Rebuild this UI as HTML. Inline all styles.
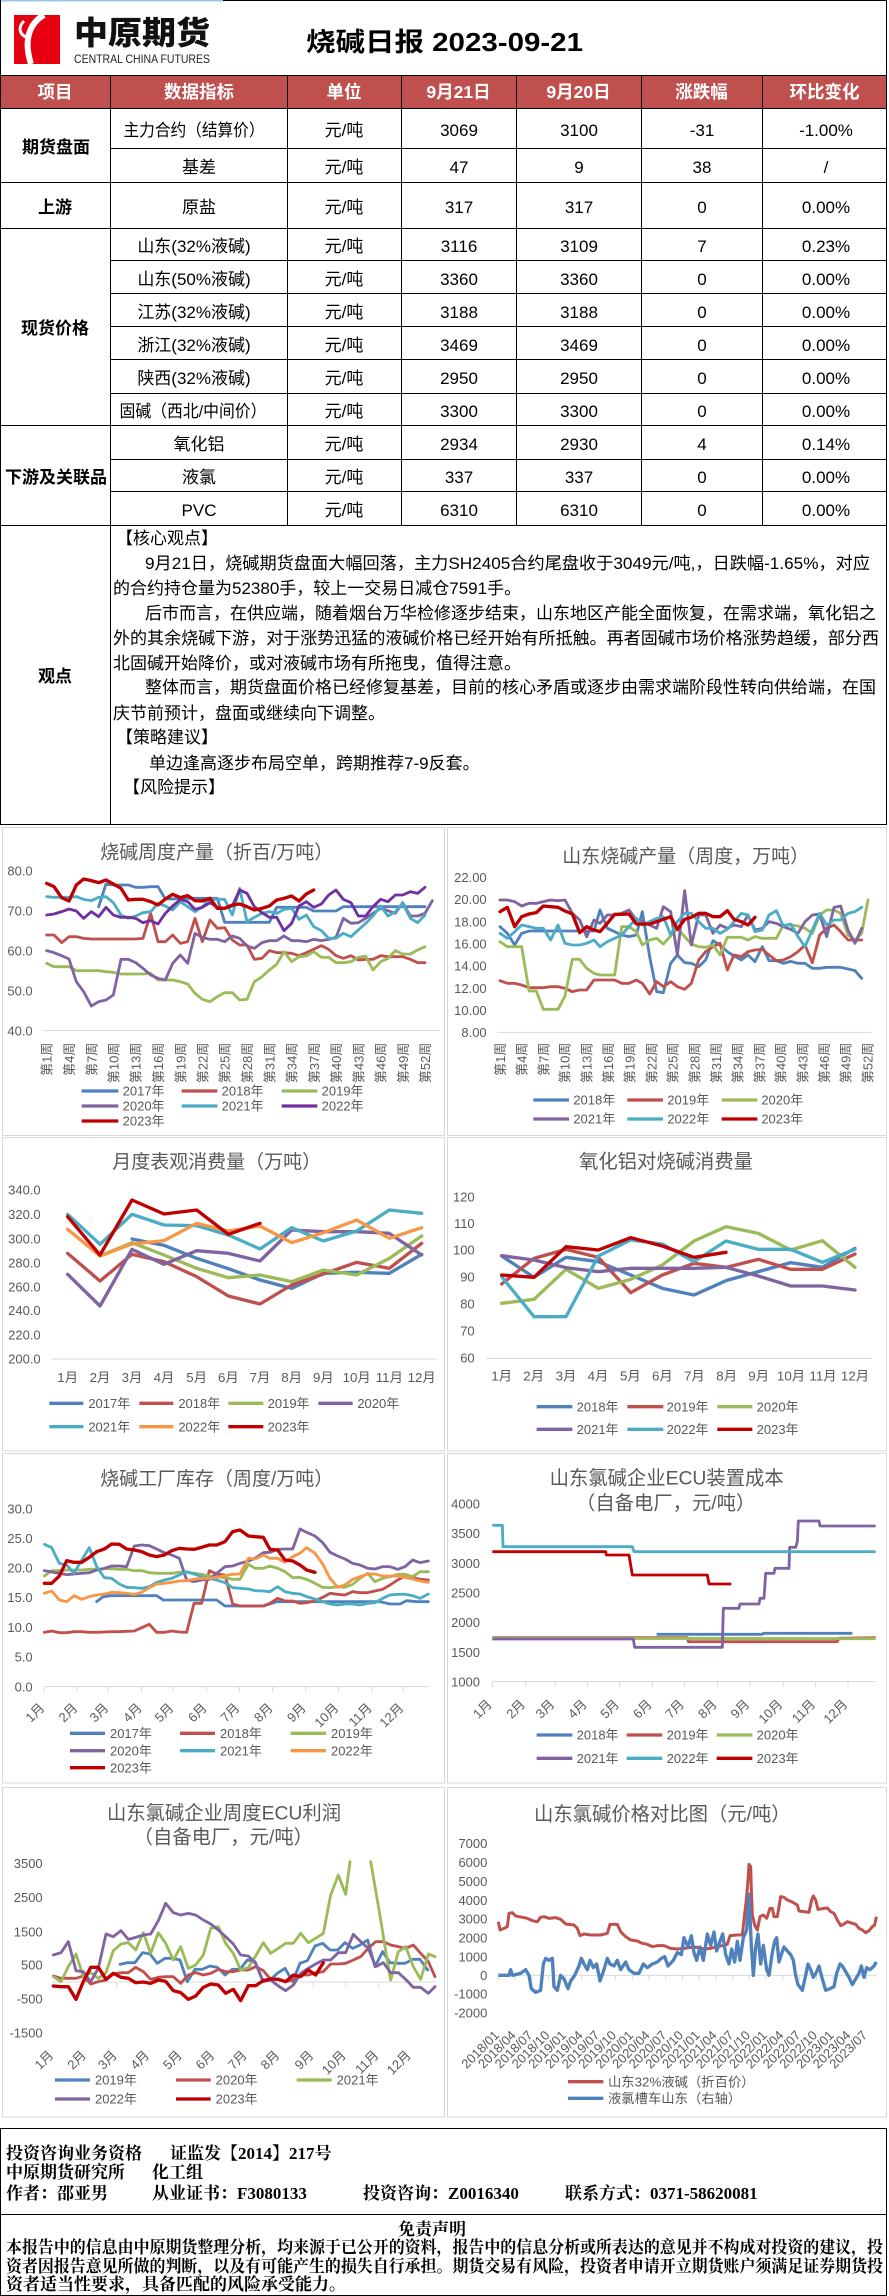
<!DOCTYPE html>
<html><head><meta charset="utf-8"><style>
html,body{margin:0;padding:0;background:#fff;}
body{width:889px;height:2296px;overflow:hidden;position:relative;}
svg{position:absolute;left:0;top:0;}
</style></head><body>
<svg width="889" height="2296" viewBox="0 0 889 2296" font-family="'Liberation Sans','Noto Sans CJK SC',sans-serif">
<!-- header -->
<rect x="0" y="0" width="223" height="1.5" fill="#9dc3e6"/>
<path d="M223 0.5H886.5" stroke="#000" stroke-width="1"/>
<rect x="14" y="15" width="46" height="49" fill="#e60012"/>
<path d="M44 15 C30 23 23 39 31 64" stroke="#fff" stroke-width="6" fill="none"/>
<path d="M24 21 C18 27 19 34 26 37" stroke="#fff" stroke-width="3" fill="none"/>
<text x="74" y="44" font-size="32" font-weight="900" textLength="136" lengthAdjust="spacingAndGlyphs" fill="#111">中原期货</text>
<text x="74" y="63" font-size="12" textLength="136" lengthAdjust="spacingAndGlyphs" fill="#222">CENTRAL CHINA FUTURES</text>
<text x="306" y="51" font-size="26" font-weight="bold" textLength="277" lengthAdjust="spacingAndGlyphs" fill="#000">烧碱日报 2023-09-21</text>

<!-- table header fill -->
<rect x="0" y="75.5" width="887" height="33" fill="#C0504D"/>
<!-- grid -->
<g stroke="#000" stroke-width="1" fill="none">
<path d="M0 75.5H887M0 108.5H887M110 148.5H887M0 182.5H887M0 228.5H887M110 260.5H887M110 293.5H887M110 326.5H887M110 359.5H887M110 393.5H887M0 425.5H887M110 459.5H887M110 491.5H887M0 525.5H887M0 824.5H887"/>
<path d="M0.5 0V824M110.5 75V824M287.5 75V525M401.5 75V525M516.5 75V525M641.5 75V525M762.5 75V525M886.5 0V824"/>
</g>
<g font-size="17.5" font-weight="bold" fill="#fff" text-anchor="middle">
<text x="55" y="98">项目</text><text x="199" y="98">数据指标</text><text x="344" y="98">单位</text>
<text x="458.5" y="98">9月21日</text><text x="578.5" y="98">9月20日</text><text x="701.5" y="98">涨跌幅</text><text x="824.5" y="98">环比变化</text>
</g>
<g font-size="17" font-weight="bold" fill="#000" text-anchor="middle">
<text x="56" y="153">期货盘面</text><text x="55" y="213">上游</text><text x="55" y="334">现货价格</text><text x="56" y="483">下游及关联品</text><text x="55" y="682">观点</text>
</g>
<g font-size="17" fill="#000" text-anchor="middle">
<text x="194" y="136" textLength="141" lengthAdjust="spacingAndGlyphs">主力合约（结算价）</text>
<text x="344" y="136">元/吨</text><text x="459" y="136">3069</text><text x="579" y="136">3100</text><text x="702" y="136">-31</text><text x="826" y="136">-1.00%</text>
<text x="199" y="173">基差</text><text x="344" y="173">元/吨</text><text x="459" y="173">47</text><text x="579" y="173">9</text><text x="702" y="173">38</text><text x="826" y="173">/</text>
<text x="199" y="213">原盐</text><text x="344" y="213">元/吨</text><text x="459" y="213">317</text><text x="579" y="213">317</text><text x="702" y="213">0</text><text x="826" y="213">0.00%</text>
<text x="194" y="252">山东(32%液碱)</text><text x="344" y="252">元/吨</text><text x="459" y="252">3116</text><text x="579" y="252">3109</text><text x="702" y="252">7</text><text x="826" y="252">0.23%</text>
<text x="194" y="285">山东(50%液碱)</text><text x="344" y="285">元/吨</text><text x="459" y="285">3360</text><text x="579" y="285">3360</text><text x="702" y="285">0</text><text x="826" y="285">0.00%</text>
<text x="194" y="318">江苏(32%液碱)</text><text x="344" y="318">元/吨</text><text x="459" y="318">3188</text><text x="579" y="318">3188</text><text x="702" y="318">0</text><text x="826" y="318">0.00%</text>
<text x="194" y="351">浙江(32%液碱)</text><text x="344" y="351">元/吨</text><text x="459" y="351">3469</text><text x="579" y="351">3469</text><text x="702" y="351">0</text><text x="826" y="351">0.00%</text>
<text x="194" y="384">陕西(32%液碱)</text><text x="344" y="384">元/吨</text><text x="459" y="384">2950</text><text x="579" y="384">2950</text><text x="702" y="384">0</text><text x="826" y="384">0.00%</text>
<text x="193" y="417" textLength="147" lengthAdjust="spacingAndGlyphs">固碱（西北/中间价）</text><text x="344" y="417">元/吨</text><text x="459" y="417">3300</text><text x="579" y="417">3300</text><text x="702" y="417">0</text><text x="826" y="417">0.00%</text>
<text x="199" y="450">氧化铝</text><text x="344" y="450">元/吨</text><text x="459" y="450">2934</text><text x="579" y="450">2930</text><text x="702" y="450">4</text><text x="826" y="450">0.14%</text>
<text x="199" y="483">液氯</text><text x="344" y="483">元/吨</text><text x="459" y="483">337</text><text x="579" y="483">337</text><text x="702" y="483">0</text><text x="826" y="483">0.00%</text>
<text x="199" y="516">PVC</text><text x="344" y="516">元/吨</text><text x="459" y="516">6310</text><text x="579" y="516">6310</text><text x="702" y="516">0</text><text x="826" y="516">0.00%</text>
</g>
<!-- viewpoint -->
<g font-size="17" fill="#000">
<text x="116" y="544">【核心观点】</text>
<text x="145" y="569" textLength="725" lengthAdjust="spacingAndGlyphs">9月21日，烧碱期货盘面大幅回落，主力SH2405合约尾盘收于3049元/吨,，日跌幅-1.65%，对应</text>
<text x="113" y="594">的合约持仓量为52380手，较上一交易日减仓7591手。</text>
<text x="145" y="619" textLength="731" lengthAdjust="spacingAndGlyphs">后市而言，在供应端，随着烟台万华检修逐步结束，山东地区产能全面恢复，在需求端，氧化铝之</text>
<text x="113" y="644" textLength="766" lengthAdjust="spacingAndGlyphs">外的其余烧碱下游，对于涨势迅猛的液碱价格已经开始有所抵触。再者固碱市场价格涨势趋缓，部分西</text>
<text x="113" y="669">北固碱开始降价，或对液碱市场有所拖曳，值得注意。</text>
<text x="145" y="693" textLength="731" lengthAdjust="spacingAndGlyphs">整体而言，期货盘面价格已经修复基差，目前的核心矛盾或逐步由需求端阶段性转向供给端，在国</text>
<text x="113" y="719">庆节前预计，盘面或继续向下调整。</text>
<text x="116" y="743">【策略建议】</text>
<text x="149" y="769">单边逢高逐步布局空单，跨期推荐7-9反套。</text>
<text x="123" y="793">【风险提示】</text>
</g>

<!-- chart boxes -->
<g fill="none" stroke="#d9d9d9" stroke-width="1">
<rect x="2.5" y="827.5" width="442" height="308"/><rect x="447.5" y="827.5" width="439" height="308"/>
<rect x="2.5" y="1137.5" width="442" height="313.5"/><rect x="447.5" y="1137.5" width="439" height="313.5"/>
<rect x="2.5" y="1453.5" width="442" height="329.5"/><rect x="447.5" y="1453.5" width="439" height="329.5"/>
<rect x="2.5" y="1787.5" width="442" height="329.5"/><rect x="447.5" y="1787.5" width="439" height="329.5"/>
</g>

<!-- C1 -->
<g transform="translate(0,800) scale(0.333333)">
<text x="650" y="175" font-size="57" text-anchor="middle" fill="#595959">烧碱周度产量（折百/万吨）</text>
<g font-size="39" fill="#595959" text-anchor="end">
<text x="98" y="226">80.0</text><text x="98" y="346">70.0</text><text x="98" y="466">60.0</text><text x="98" y="586">50.0</text><text x="98" y="706">40.0</text>
<text transform="translate(155,728) rotate(-90)">第1周</text><text transform="translate(222,728) rotate(-90)">第4周</text><text transform="translate(289,728) rotate(-90)">第7周</text><text transform="translate(355,728) rotate(-90)">第10周</text><text transform="translate(422,728) rotate(-90)">第13周</text><text transform="translate(489,728) rotate(-90)">第16周</text><text transform="translate(556,728) rotate(-90)">第19周</text><text transform="translate(623,728) rotate(-90)">第22周</text><text transform="translate(689,728) rotate(-90)">第25周</text><text transform="translate(756,728) rotate(-90)">第28周</text><text transform="translate(823,728) rotate(-90)">第31周</text><text transform="translate(890,728) rotate(-90)">第34周</text><text transform="translate(957,728) rotate(-90)">第37周</text><text transform="translate(1023,728) rotate(-90)">第40周</text><text transform="translate(1090,728) rotate(-90)">第43周</text><text transform="translate(1157,728) rotate(-90)">第46周</text><text transform="translate(1224,728) rotate(-90)">第49周</text><text transform="translate(1290,728) rotate(-90)">第52周</text>
</g>
<line x1="130" y1="692" x2="1320" y2="692" stroke="#d9d9d9" stroke-width="3"/>
<g fill="none" stroke-width="8.5" stroke-linejoin="round" stroke-linecap="round">
<polyline stroke="#4F81BD" points="296,320 318,252 340,255 363,255 385,255 407,262 429,262 452,260 474,260 496,297 518,297 541,295 563,295 585,295 607,295 630,295 652,295 674,367 697,367 719,367 741,367 763,367 786,367 808,367 830,322 852,322 875,322 897,322 919,322 941,333 964,333 986,333 1008,333 1030,320 1053,320 1075,320 1097,320 1119,320 1142,320 1164,320 1186,320 1208,320 1231,320 1253,320 1275,320"/>
<polyline stroke="#C0504D" points="140,405 162,405 185,428 207,410 229,410 251,415 274,417 296,417 318,417 340,417 363,417 385,417 407,417 429,415 452,340 474,425 496,425 518,405 541,430 563,425 585,355 607,425 630,360 652,385 674,383 697,420 719,435 741,435 763,478 786,475 808,452 830,458 852,458 875,460 897,467 919,458 941,448 964,437 986,448 1008,467 1030,475 1053,467 1075,480 1097,478 1119,478 1142,467 1164,470 1186,470 1208,470 1231,478 1253,488 1275,488"/>
<polyline stroke="#9BBB59" points="140,490 162,500 185,500 207,500 229,512 251,512 274,512 296,512 318,515 340,517 363,522 385,522 407,522 429,522 452,520 474,540 496,540 518,540 541,545 563,552 585,580 607,598 630,605 652,590 674,578 697,578 719,600 741,598 763,545 786,530 808,510 830,493 852,455 875,485 897,470 919,468 941,455 964,472 986,472 1008,488 1030,488 1053,485 1075,472 1097,468 1119,510 1142,485 1164,475 1186,452 1208,462 1231,462 1253,450 1275,440"/>
<polyline stroke="#8064A2" points="140,452 162,458 185,467 207,477 229,545 251,575 274,618 296,605 318,600 340,585 363,478 385,478 407,488 429,505 452,525 474,535 496,540 518,490 541,465 563,490 585,400 607,412 630,418 652,418 674,425 697,408 719,415 741,438 763,445 786,428 808,422 830,422 852,408 875,422 897,422 919,425 941,418 964,422 986,418 1008,412 1030,355 1053,370 1075,368 1097,355 1119,340 1142,325 1164,332 1186,340 1208,308 1231,348 1253,348 1275,340 1297,302"/>
<polyline stroke="#4BACC6" points="140,290 162,292 185,292 207,292 229,290 251,298 274,302 296,292 318,290 340,308 363,345 385,355 407,348 429,338 452,335 474,310 496,318 518,330 541,305 563,320 585,335 607,320 630,298 652,298 674,298 697,345 719,265 741,365 763,352 786,340 808,335 830,340 852,328 875,325 897,358 919,345 941,380 964,392 986,415 1008,415 1030,400 1053,410 1075,390 1097,370 1119,348 1142,318 1164,348 1186,335 1208,310 1231,355 1253,368 1275,345"/>
<polyline stroke="#7030A0" points="140,345 162,342 185,335 207,327 229,333 251,355 274,335 296,350 318,322 340,345 363,352 385,352 407,355 429,368 452,362 474,372 496,340 518,318 541,298 563,305 585,328 607,322 630,308 652,322 674,325 697,318 719,270 741,280 763,320 786,338 808,352 830,352 852,392 875,370 897,318 919,305 941,322 964,312 986,285 1008,270 1030,298 1053,308 1075,348 1097,348 1119,320 1142,298 1164,305 1186,285 1208,285 1231,275 1253,280 1275,262"/>
<polyline stroke="#C00000" stroke-width="10" points="140,250 162,260 185,293 207,303 229,255 251,237 274,242 296,248 318,240 340,252 363,265 385,300 407,298 429,298 452,305 474,315 496,297 518,283 541,293 563,287 585,302 607,303 630,295 652,325 674,325 697,315 719,312 741,320 763,330 786,325 808,318 830,300 852,295 875,288 897,303 919,282 941,270"/>
</g>
<g stroke-width="10">
<line x1="245" y1="873" x2="355" y2="873" stroke="#4F81BD"/><line x1="545" y1="873" x2="652" y2="873" stroke="#C0504D"/><line x1="845" y1="873" x2="952" y2="873" stroke="#9BBB59"/>
<line x1="245" y1="918" x2="355" y2="918" stroke="#8064A2"/><line x1="545" y1="918" x2="652" y2="918" stroke="#4BACC6"/><line x1="845" y1="918" x2="952" y2="918" stroke="#7030A0"/>
<line x1="245" y1="963" x2="355" y2="963" stroke="#C00000"/>
</g>
<g font-size="39" fill="#595959">
<text x="368" y="887">2017年</text><text x="665" y="887">2018年</text><text x="965" y="887">2019年</text>
<text x="368" y="932">2020年</text><text x="665" y="932">2021年</text><text x="965" y="932">2022年</text>
<text x="368" y="977">2023年</text>
</g>
</g>

<!-- C2 -->
<g transform="translate(444,800) scale(0.333333)">
<text x="725" y="188" font-size="57" text-anchor="middle" fill="#595959">山东烧碱产量（周度，万吨）</text>
<g font-size="39" fill="#595959" text-anchor="end">
<text x="128" y="246">22.00</text><text x="128" y="312">20.00</text><text x="128" y="379">18.00</text><text x="128" y="445">16.00</text><text x="128" y="512">14.00</text><text x="128" y="579">12.00</text><text x="128" y="645">10.00</text><text x="128" y="711">8.00</text>
<text transform="translate(183,728) rotate(-90)">第1周</text><text transform="translate(248,728) rotate(-90)">第4周</text><text transform="translate(313,728) rotate(-90)">第7周</text><text transform="translate(377,728) rotate(-90)">第10周</text><text transform="translate(442,728) rotate(-90)">第13周</text><text transform="translate(507,728) rotate(-90)">第16周</text><text transform="translate(572,728) rotate(-90)">第19周</text><text transform="translate(637,728) rotate(-90)">第22周</text><text transform="translate(701,728) rotate(-90)">第25周</text><text transform="translate(766,728) rotate(-90)">第28周</text><text transform="translate(831,728) rotate(-90)">第31周</text><text transform="translate(896,728) rotate(-90)">第34周</text><text transform="translate(961,728) rotate(-90)">第37周</text><text transform="translate(1025,728) rotate(-90)">第40周</text><text transform="translate(1090,728) rotate(-90)">第43周</text><text transform="translate(1155,728) rotate(-90)">第46周</text><text transform="translate(1220,728) rotate(-90)">第49周</text><text transform="translate(1285,728) rotate(-90)">第52周</text>
</g>
<line x1="160" y1="697" x2="1283" y2="697" stroke="#d9d9d9" stroke-width="3"/>
<g fill="none" stroke-width="8.5" stroke-linejoin="round" stroke-linecap="round">
<polyline stroke="#4F81BD" points="168,380 190,400 212,435 233,400 255,393 277,393 298,393 320,393 342,393 363,393 385,393 407,393 428,393 450,393 468,330 490,385 512,395 533,405 555,410 577,405 595,335 617,470 638,575 658,578 680,490 700,465 722,488 742,490 764,500 785,480 807,422 828,435 850,455 870,468 892,480 912,465 933,485 955,440 975,482 997,482 1018,490 1040,484 1062,490 1083,490 1105,505 1127,505 1148,502 1170,502 1190,502 1212,507 1233,512 1253,535"/>
<polyline stroke="#C0504D" points="168,542 190,550 212,550 233,555 255,563 277,563 298,563 320,560 342,560 363,565 385,575 407,570 428,570 450,540 468,540 490,540 512,540 533,550 555,550 577,540 595,550 617,582 638,545 658,560 680,545 700,560 722,568 742,550 764,480 785,455 807,440 828,430 850,510 870,465 892,470 912,455 933,450 955,448 975,465 997,482 1018,480 1040,470 1062,455 1083,435 1105,488 1127,405 1148,385 1170,375 1190,395 1212,420 1233,420 1253,420"/>
<polyline stroke="#9BBB59" points="168,425 190,440 212,440 233,440 255,573 277,573 298,628 320,628 342,628 363,588 385,478 407,478 428,505 450,520 468,525 490,525 512,525 533,380 555,380 577,395 595,435 617,420 638,415 658,432 680,408 700,385 722,410 742,432 764,440 785,442 807,435 828,465 850,412 870,412 892,412 912,420 933,410 955,415 975,415 997,415 1018,375 1040,375 1062,378 1083,385 1105,400 1127,345 1148,330 1170,330 1190,340 1212,405 1233,420 1253,400 1272,300"/>
<polyline stroke="#8064A2" points="168,300 190,300 212,305 233,318 255,310 277,310 298,305 320,300 342,302 363,300 385,340 407,360 428,410 450,360 468,370 490,345 512,345 533,340 555,330 577,360 595,365 617,375 638,385 658,320 680,335 700,465 722,272 742,435 764,345 785,345 807,400 828,375 850,385 870,375 892,380 912,345 933,390 955,385 975,365 997,370 1018,380 1040,388 1062,400 1083,365 1105,345 1127,342 1148,410 1170,322 1190,318 1212,390 1233,430 1253,385"/>
<polyline stroke="#4BACC6" points="168,400 190,415 212,395 233,375 255,380 277,385 298,385 320,420 342,375 363,430 385,435 407,435 428,430 450,420 468,440 490,425 512,415 533,405 555,380 577,355 595,375 617,365 638,355 658,350 680,405 700,365 722,340 742,340 764,365 785,385 807,385 828,400 850,388 870,365 892,340 912,345 933,395 955,390 975,345 997,332 1018,378 1040,372 1062,410 1083,440 1105,390 1127,340 1148,375 1170,360 1190,360 1212,340 1233,335 1253,322"/>
<polyline stroke="#C00000" stroke-width="10" points="168,335 190,322 212,380 233,350 255,342 277,338 298,318 320,320 342,322 363,333 385,342 407,398 428,380 450,390 468,395 490,370 512,343 533,343 555,342 577,372 595,372 617,372 638,365 658,358 680,350 700,388 722,358 742,352 764,340 785,340 807,350 828,350 850,332 870,358 892,365 912,375 933,352"/>
</g>
<g stroke-width="10">
<line x1="268" y1="900" x2="375" y2="900" stroke="#4F81BD"/><line x1="550" y1="900" x2="657" y2="900" stroke="#C0504D"/><line x1="833" y1="900" x2="940" y2="900" stroke="#9BBB59"/>
<line x1="268" y1="957" x2="375" y2="957" stroke="#8064A2"/><line x1="550" y1="957" x2="657" y2="957" stroke="#4BACC6"/><line x1="833" y1="957" x2="940" y2="957" stroke="#C00000"/>
</g>
<g font-size="39" fill="#595959">
<text x="388" y="914">2018年</text><text x="670" y="914">2019年</text><text x="952" y="914">2020年</text>
<text x="388" y="971">2021年</text><text x="670" y="971">2022年</text><text x="952" y="971">2023年</text>
</g>
</g>

<!-- C3 -->
<g transform="translate(0,1170) scale(0.333333)">
<text x="650" y="-6" font-size="57" text-anchor="middle" fill="#595959">月度表观消费量（万吨）</text>
<g font-size="39" fill="#595959" text-anchor="end">
<text x="122" y="74">340.0</text><text x="122" y="147">320.0</text><text x="122" y="220">300.0</text><text x="122" y="292">280.0</text><text x="122" y="364">260.0</text><text x="122" y="435">240.0</text><text x="122" y="508">220.0</text><text x="122" y="581">200.0</text>
</g>
<g font-size="40" fill="#595959" text-anchor="middle">
<text x="203" y="636">1月</text><text x="300" y="636">2月</text><text x="396" y="636">3月</text><text x="492" y="636">4月</text><text x="590" y="636">5月</text><text x="685" y="636">6月</text><text x="780" y="636">7月</text><text x="875" y="636">8月</text><text x="970" y="636">9月</text><text x="1070" y="636">10月</text><text x="1168" y="636">11月</text><text x="1265" y="636">12月</text>
</g>
<line x1="155" y1="567" x2="1310" y2="567" stroke="#d9d9d9" stroke-width="3"/>
<g fill="none" stroke-width="10" stroke-linejoin="round" stroke-linecap="round">
<polyline stroke="#4F81BD" points="396,207 492,226 590,265 685,296 780,330 875,355 970,310 1070,307 1168,310 1265,253"/>
<polyline stroke="#C0504D" points="203,250 300,333 396,253 492,275 590,320 685,378 780,402 875,345 970,312 1070,277 1168,295 1265,220"/>
<polyline stroke="#9BBB59" points="300,258 396,218 492,255 590,295 685,323 780,315 875,335 970,300 1070,315 1168,265 1265,198"/>
<polyline stroke="#8064A2" points="203,313 300,408 396,238 492,283 590,242 685,250 780,273 875,180 970,185 1070,185 1168,190 1265,255"/>
<polyline stroke="#4BACC6" points="203,133 300,223 396,133 492,165 590,167 685,195 780,237 875,173 970,213 1070,183 1168,120 1265,130"/>
<polyline stroke="#F79646" points="203,178 300,258 396,222 492,212 590,160 685,183 780,168 875,218 970,188 1070,150 1168,205 1265,173"/>
<polyline stroke="#C00000" points="203,140 300,255 396,90 492,132 590,120 685,193 780,160"/>
</g>
<g stroke-width="10">
<line x1="148" y1="700" x2="250" y2="700" stroke="#4F81BD"/><line x1="418" y1="700" x2="520" y2="700" stroke="#C0504D"/><line x1="685" y1="700" x2="790" y2="700" stroke="#9BBB59"/><line x1="955" y1="700" x2="1058" y2="700" stroke="#8064A2"/>
<line x1="148" y1="770" x2="250" y2="770" stroke="#4BACC6"/><line x1="418" y1="770" x2="520" y2="770" stroke="#F79646"/><line x1="685" y1="770" x2="790" y2="770" stroke="#C00000"/>
</g>
<g font-size="39" fill="#595959">
<text x="265" y="714">2017年</text><text x="535" y="714">2018年</text><text x="803" y="714">2019年</text><text x="1072" y="714">2020年</text>
<text x="265" y="784">2021年</text><text x="535" y="784">2022年</text><text x="803" y="784">2023年</text>
</g>
</g>

<!-- C4 -->
<g transform="translate(444,1170) scale(0.333333)">
<text x="666" y="-6" font-size="58" text-anchor="middle" fill="#595959">氧化铝对烧碱消费量</text>
<g font-size="39" fill="#595959" text-anchor="end">
<text x="92" y="94">120</text><text x="92" y="174">110</text><text x="92" y="254">100</text><text x="92" y="335">90</text><text x="92" y="415">80</text><text x="92" y="497">70</text><text x="92" y="577">60</text>
</g>
<g font-size="40" fill="#595959" text-anchor="middle">
<text x="173" y="632">1月</text><text x="269" y="632">2月</text><text x="366" y="632">3月</text><text x="462" y="632">4月</text><text x="559" y="632">5月</text><text x="655" y="632">6月</text><text x="751" y="632">7月</text><text x="848" y="632">8月</text><text x="944" y="632">9月</text><text x="1041" y="632">10月</text><text x="1137" y="632">11月</text><text x="1233" y="632">12月</text>
</g>
<line x1="125" y1="565" x2="1283" y2="565" stroke="#d9d9d9" stroke-width="3"/>
<g fill="none" stroke-width="10" stroke-linejoin="round" stroke-linecap="round">
<polyline stroke="#4F81BD" points="173,258 270,322 366,262 463,275 560,315 655,355 750,375 846,332 943,305 1040,278 1135,292 1233,235"/>
<polyline stroke="#C0504D" points="173,342 270,265 366,238 463,262 560,368 655,315 750,280 846,292 943,268 1040,298 1135,298 1233,252"/>
<polyline stroke="#9BBB59" points="173,400 270,388 366,298 463,355 560,328 655,285 750,213 846,170 943,190 1040,240 1135,212 1233,292"/>
<polyline stroke="#8064A2" points="173,257 270,270 366,293 463,305 560,295 655,295 750,295 846,292 943,318 1040,348 1135,348 1233,360"/>
<polyline stroke="#4BACC6" points="173,320 270,440 366,440 463,258 560,210 655,222 750,275 846,213 943,238 1040,238 1135,277 1233,238"/>
<polyline stroke="#C00000" points="173,315 270,322 366,230 463,240 560,203 655,228 750,262 846,247"/>
</g>
<g stroke-width="10">
<line x1="278" y1="710" x2="385" y2="710" stroke="#4F81BD"/><line x1="550" y1="710" x2="658" y2="710" stroke="#C0504D"/><line x1="820" y1="710" x2="925" y2="710" stroke="#9BBB59"/>
<line x1="278" y1="778" x2="385" y2="778" stroke="#8064A2"/><line x1="550" y1="778" x2="658" y2="778" stroke="#4BACC6"/><line x1="820" y1="778" x2="925" y2="778" stroke="#C00000"/>
</g>
<g font-size="39" fill="#595959">
<text x="398" y="724">2018年</text><text x="668" y="724">2019年</text><text x="938" y="724">2020年</text>
<text x="398" y="792">2021年</text><text x="668" y="792">2022年</text><text x="938" y="792">2023年</text>
</g>
</g>

<!-- C5 -->
<g transform="translate(0,1450) scale(0.333333)">
<text x="650" y="105" font-size="57" text-anchor="middle" fill="#595959">烧碱工厂库存（周度/万吨）</text>
<g font-size="39" fill="#595959" text-anchor="end">
<text x="98" y="190">30.0</text><text x="98" y="279">25.0</text><text x="98" y="367">20.0</text><text x="98" y="456">15.0</text><text x="98" y="546">10.0</text><text x="98" y="634">5.0</text><text x="98" y="724">0.0</text>
<text transform="translate(136,776) rotate(-45)">1月</text><text transform="translate(235,776) rotate(-45)">2月</text><text transform="translate(328,776) rotate(-45)">3月</text><text transform="translate(428,776) rotate(-45)">4月</text><text transform="translate(523,776) rotate(-45)">5月</text><text transform="translate(623,776) rotate(-45)">6月</text><text transform="translate(721,776) rotate(-45)">7月</text><text transform="translate(821,776) rotate(-45)">8月</text><text transform="translate(920,776) rotate(-45)">9月</text><text transform="translate(1018,776) rotate(-45)">10月</text><text transform="translate(1118,776) rotate(-45)">11月</text><text transform="translate(1213,776) rotate(-45)">12月</text>
</g>
<path d="M133 710H1285M133 710V725M232 710V725M325 710V725M425 710V725M520 710V725M620 710V725M718 710V725M818 710V725M917 710V725M1015 710V725M1115 710V725M1210 710V725" stroke="#d9d9d9" stroke-width="3" fill="none"/>
<g fill="none" stroke-width="8.5" stroke-linejoin="round" stroke-linecap="round">
<polyline stroke="#4F81BD" points="290,455 310,440 330,437 360,437 400,437 440,437 470,437 490,450 520,450 560,450 600,450 650,450 675,468 700,468 740,468 790,468 830,455 870,455 920,455 960,455 1000,455 1050,455 1100,455 1140,455 1170,462 1200,462 1220,452 1250,455 1285,455"/>
<polyline stroke="#C0504D" points="133,547 155,543 178,548 200,548 222,545 245,545 268,547 290,547 313,546 335,545 358,545 380,544 403,543 425,533 448,523 470,547 493,547 515,543 538,546 560,547 582,460 605,460 628,362 650,372 675,375 698,462 720,468 745,468 765,468 790,468 810,460 833,445 855,453 878,453 900,460 920,458 945,453 968,442 990,430 1013,433 1035,435 1058,425 1080,428 1103,428 1125,423 1148,418 1170,405 1193,390 1215,378 1238,382 1260,388 1285,390"/>
<polyline stroke="#9BBB59" points="133,378 155,362 178,362 200,360 222,360 245,360 268,358 290,358 313,356 335,356 358,358 380,358 403,362 425,362 448,368 470,370 493,370 515,370 538,367 560,367 582,370 605,373 628,378 650,380 675,383 698,388 720,388 745,343 765,355 790,355 810,348 833,355 855,365 878,383 900,382 920,388 945,400 968,412 990,413 1013,410 1035,412 1058,403 1080,385 1103,370 1125,395 1148,385 1170,380 1193,373 1215,373 1238,380 1260,365 1285,365"/>
<polyline stroke="#8064A2" points="133,362 155,366 178,370 200,374 222,372 245,370 268,368 290,360 313,355 335,348 358,348 380,350 403,288 425,285 448,287 470,297 493,308 515,315 538,325 560,390 582,395 605,390 628,388 650,370 675,350 698,348 720,340 745,333 765,325 790,308 810,307 833,298 855,297 878,297 900,237 920,247 945,258 968,278 990,307 1013,318 1035,327 1058,340 1080,345 1103,355 1125,357 1148,350 1170,350 1193,358 1215,350 1238,330 1260,338 1285,333"/>
<polyline stroke="#4BACC6" points="133,283 155,293 178,340 200,345 222,370 245,330 268,293 290,350 313,383 335,385 358,402 380,412 403,413 425,415 448,410 470,397 493,390 515,385 538,375 560,365 582,372 605,380 628,385 650,390 675,398 698,413 720,415 745,417 765,422 790,423 810,425 833,410 855,425 878,430 900,432 920,440 945,447 968,455 990,462 1013,465 1035,462 1058,462 1080,465 1103,460 1125,458 1148,445 1170,435 1193,433 1215,433 1238,437 1260,445 1285,432"/>
<polyline stroke="#F79646" points="133,430 155,423 178,450 200,455 222,437 245,448 268,440 290,435 313,432 335,427 358,428 380,430 403,433 425,427 448,413 470,402 493,400 515,397 538,393 560,392 582,388 605,385 628,385 650,382 675,377 698,373 720,372 745,325 765,327 790,315 810,325 833,325 855,337 878,320 900,310 920,293 945,310 968,342 990,385 1013,412 1035,405 1058,388 1080,380 1103,372 1125,372 1148,378 1170,378 1193,378 1215,382 1238,387 1260,393 1285,397"/>
<polyline stroke="#C00000" stroke-width="10" points="133,400 155,400 178,378 200,332 222,337 245,337 268,322 290,305 313,297 335,282 358,283 380,297 403,300 425,305 448,315 470,320 493,315 515,302 538,295 560,297 582,298 605,292 628,285 650,285 675,275 698,245 720,240 745,258 765,260 790,262 810,298 833,300 855,330 878,333 900,345 920,360 945,367"/>
</g>
<g stroke-width="10">
<line x1="210" y1="850" x2="315" y2="850" stroke="#4F81BD"/><line x1="540" y1="850" x2="645" y2="850" stroke="#C0504D"/><line x1="872" y1="850" x2="978" y2="850" stroke="#9BBB59"/>
<line x1="210" y1="902" x2="315" y2="902" stroke="#8064A2"/><line x1="540" y1="902" x2="645" y2="902" stroke="#4BACC6"/><line x1="872" y1="902" x2="978" y2="902" stroke="#F79646"/>
<line x1="210" y1="953" x2="315" y2="953" stroke="#C00000"/>
</g>
<g font-size="39" fill="#595959">
<text x="330" y="864">2017年</text><text x="660" y="864">2018年</text><text x="993" y="864">2019年</text>
<text x="330" y="916">2020年</text><text x="660" y="916">2021年</text><text x="993" y="916">2022年</text>
<text x="330" y="967">2023年</text>
</g>
</g>

<!-- C6 -->
<g transform="translate(444,1450) scale(0.333333)">
<g font-size="58" text-anchor="middle" fill="#595959">
<text x="668" y="103">山东氯碱企业ECU装置成本</text><text x="665" y="178">（自备电厂，元/吨）</text>
</g>
<g font-size="39" fill="#595959" text-anchor="end">
<text x="108" y="176">4000</text><text x="108" y="264">3500</text><text x="108" y="354">3000</text><text x="108" y="442">2500</text><text x="108" y="531">2000</text><text x="108" y="621">1500</text><text x="108" y="709">1000</text>
<text transform="translate(146,765) rotate(-45)">1月</text><text transform="translate(246,765) rotate(-45)">2月</text><text transform="translate(334,765) rotate(-45)">3月</text><text transform="translate(431,765) rotate(-45)">4月</text><text transform="translate(528,765) rotate(-45)">5月</text><text transform="translate(626,765) rotate(-45)">6月</text><text transform="translate(723,765) rotate(-45)">7月</text><text transform="translate(821,765) rotate(-45)">8月</text><text transform="translate(919,765) rotate(-45)">9月</text><text transform="translate(1018,765) rotate(-45)">10月</text><text transform="translate(1116,765) rotate(-45)">11月</text><text transform="translate(1213,765) rotate(-45)">12月</text>
</g>
<path d="M145 695H1295M145 695V712M245 695V712M333 695V712M430 695V712M527 695V712M625 695V712M722 695V712M820 695V712M918 695V712M1017 695V712M1115 695V712M1212 695V712" stroke="#d9d9d9" stroke-width="3" fill="none"/>
<g fill="none" stroke-width="8.5" stroke-linejoin="round">
<polyline stroke="#4F81BD" points="638,553 955,553 958,550 1225,550"/>
<polyline stroke="#C0504D" points="145,563 730,563 733,575 1180,575 1185,565 1295,563"/>
<polyline stroke="#9BBB59" points="145,565 1295,566"/>
<polyline stroke="#8064A2" points="145,567 568,567 572,592 835,592 838,475 885,475 888,462 945,462 948,445 960,445 965,370 990,370 993,355 1035,355 1037,292 1055,292 1060,275 1063,213 1125,213 1128,228 1295,228"/>
<polyline stroke="#4BACC6" points="145,226 175,226 177,290 565,290 570,305 1295,305"/>
<polyline stroke="#C00000" points="145,305 485,305 487,315 555,315 565,375 790,375 795,402 862,402"/>
</g>
<g stroke-width="10">
<line x1="278" y1="855" x2="385" y2="855" stroke="#4F81BD"/><line x1="548" y1="855" x2="655" y2="855" stroke="#C0504D"/><line x1="818" y1="855" x2="925" y2="855" stroke="#9BBB59"/>
<line x1="278" y1="925" x2="385" y2="925" stroke="#8064A2"/><line x1="548" y1="925" x2="655" y2="925" stroke="#4BACC6"/><line x1="818" y1="925" x2="925" y2="925" stroke="#C00000"/>
</g>
<g font-size="39" fill="#595959">
<text x="398" y="869">2018年</text><text x="668" y="869">2019年</text><text x="938" y="869">2020年</text>
<text x="398" y="939">2021年</text><text x="668" y="939">2022年</text><text x="938" y="939">2023年</text>
</g>
</g>

<!-- C7 -->
<g transform="translate(0,1780) scale(0.333333)">
<g font-size="58" text-anchor="middle" fill="#595959">
<text x="672" y="118">山东氯碱企业周度ECU利润</text><text x="670" y="190">（自备电厂，元/吨）</text>
</g>
<g font-size="39" fill="#595959" text-anchor="end">
<text x="128" y="264">3500</text><text x="128" y="366">2500</text><text x="128" y="469">1500</text><text x="128" y="569">500</text><text x="128" y="671">-500</text><text x="128" y="772">-1500</text>
<text transform="translate(163,828) rotate(-45)">1月</text><text transform="translate(261,828) rotate(-45)">2月</text><text transform="translate(353,828) rotate(-45)">3月</text><text transform="translate(450,828) rotate(-45)">4月</text><text transform="translate(548,828) rotate(-45)">5月</text><text transform="translate(646,828) rotate(-45)">6月</text><text transform="translate(743,828) rotate(-45)">7月</text><text transform="translate(841,828) rotate(-45)">8月</text><text transform="translate(943,828) rotate(-45)">9月</text><text transform="translate(1040,828) rotate(-45)">10月</text><text transform="translate(1138,828) rotate(-45)">11月</text><text transform="translate(1235,828) rotate(-45)">12月</text>
</g>
<path d="M160 606H1308M160 606V622M258 606V622M350 606V622M447 606V622M545 606V622M643 606V622M740 606V622M838 606V622M940 606V622M1037 606V622M1135 606V622M1232 606V622" stroke="#d9d9d9" stroke-width="3" fill="none"/>
<g fill="none" stroke-width="8.5" stroke-linejoin="round" stroke-linecap="round">
<polyline stroke="#4F81BD" points="360,553 383,548 405,548 428,518 450,522 472,550 495,535 518,535 540,540 562,605 585,568 607,568 630,558 652,562 675,585 697,568 720,568 742,540 765,545 787,600 810,600 832,580 855,565 878,605 900,550 922,542 945,498 968,490 990,510 1013,510 1035,488 1058,505 1080,495 1103,480 1125,560 1148,515 1170,548 1193,550 1215,550 1238,538 1260,538 1283,570"/>
<polyline stroke="#C0504D" points="160,588 183,595 205,595 228,595 250,588 272,612 295,605 318,600 340,582 363,578 385,578 407,562 430,575 452,598 475,592 497,590 520,590 542,610 565,585 587,578 610,585 632,580 655,568 677,575 700,575 722,570 745,570 767,560 790,572 812,598 835,598 857,605 880,600 902,585 925,585 947,578 970,575 992,552 1015,552 1037,550 1060,540 1082,530 1105,505 1127,485 1150,485 1172,495 1195,500 1217,505 1240,495 1262,520 1285,545 1305,590"/>
<polyline stroke="#9BBB59" points="160,590 183,605 205,560 228,522 250,590 272,578 295,595 318,578 340,512 363,492 385,488 407,510 430,458 452,520 475,458 497,490 520,540 542,500 565,565 587,555 610,525 632,445 655,440 677,490 700,520 722,570 745,563 767,528 790,488 812,520 835,505 857,490 880,490 902,460 925,488 947,475 970,460 992,345 1015,285 1037,343 1050,245"/>
<polyline stroke="#9BBB59" points="1112,245 1138,395 1160,530 1172,600 1195,515 1217,500 1240,560 1262,598 1285,522 1305,530"/>
<polyline stroke="#8064A2" points="160,525 183,518 205,485 228,572 250,575 272,605 295,565 318,462 340,470 363,452 385,478 407,472 430,465 452,462 475,422 497,370 520,398 542,405 565,400 587,405 610,420 632,432 655,450 677,470 700,492 722,525 745,528 767,550 790,605 812,600 835,618 857,632 880,615 902,580 925,565 947,552 970,540 992,540 1015,518 1037,518 1060,463 1082,485 1105,505 1127,560 1150,548 1172,578 1195,578 1217,598 1240,622 1262,622 1285,640 1305,620"/>
<polyline stroke="#C00000" stroke-width="10" points="160,618 183,620 205,620 228,658 250,605 272,562 295,562 318,598 340,580 363,592 385,595 407,608 430,606 452,610 475,600 497,604 520,632 542,638 565,658 587,648 610,622 632,612 655,615 677,640 700,628 722,662 745,617 767,617 790,602 812,597 835,598 857,605 880,585 902,590 925,570 947,585 970,548"/>
</g>
<g stroke-width="10">
<line x1="165" y1="900" x2="270" y2="900" stroke="#4F81BD"/><line x1="528" y1="900" x2="632" y2="900" stroke="#C0504D"/><line x1="890" y1="900" x2="995" y2="900" stroke="#9BBB59"/>
<line x1="165" y1="957" x2="270" y2="957" stroke="#8064A2"/><line x1="528" y1="957" x2="632" y2="957" stroke="#C00000"/>
</g>
<g font-size="39" fill="#595959">
<text x="285" y="914">2019年</text><text x="647" y="914">2020年</text><text x="1010" y="914">2021年</text>
<text x="285" y="971">2022年</text><text x="647" y="971">2023年</text>
</g>
</g>

<!-- C8 -->
<g transform="translate(444,1780) scale(0.333333)">
<text x="655" y="122" font-size="58" text-anchor="middle" fill="#595959">山东氯碱价格对比图（元/吨）</text>
<g font-size="39" fill="#595959" text-anchor="end">
<text x="130" y="204">7000</text><text x="130" y="261">6000</text><text x="130" y="318">5000</text><text x="130" y="375">4000</text><text x="130" y="431">3000</text><text x="130" y="487">2000</text><text x="130" y="544">1000</text><text x="130" y="600">0</text><text x="130" y="656">-1000</text><text x="130" y="712">-2000</text>
<text transform="translate(168,768) rotate(-45)">2018/01</text><text transform="translate(218,768) rotate(-45)">2018/04</text><text transform="translate(268,768) rotate(-45)">2018/07</text><text transform="translate(319,768) rotate(-45)">2018/10</text><text transform="translate(369,768) rotate(-45)">2019/01</text><text transform="translate(419,768) rotate(-45)">2019/04</text><text transform="translate(469,768) rotate(-45)">2019/07</text><text transform="translate(519,768) rotate(-45)">2019/10</text><text transform="translate(570,768) rotate(-45)">2020/01</text><text transform="translate(620,768) rotate(-45)">2020/04</text><text transform="translate(670,768) rotate(-45)">2020/07</text><text transform="translate(720,768) rotate(-45)">2020/10</text><text transform="translate(770,768) rotate(-45)">2021/01</text><text transform="translate(821,768) rotate(-45)">2021/04</text><text transform="translate(871,768) rotate(-45)">2021/07</text><text transform="translate(921,768) rotate(-45)">2021/10</text><text transform="translate(971,768) rotate(-45)">2022/01</text><text transform="translate(1021,768) rotate(-45)">2022/04</text><text transform="translate(1072,768) rotate(-45)">2022/07</text><text transform="translate(1122,768) rotate(-45)">2022/10</text><text transform="translate(1172,768) rotate(-45)">2023/01</text><text transform="translate(1222,768) rotate(-45)">2023/04</text><text transform="translate(1272,768) rotate(-45)">2023/07</text>
</g>
<path d="M163 586H1297M163 586V600M213 586V600M263 586V600M314 586V600M364 586V600M414 586V600M464 586V600M514 586V600M565 586V600M615 586V600M665 586V600M715 586V600M765 586V600M816 586V600M866 586V600M916 586V600M966 586V600M1016 586V600M1067 586V600M1117 586V600M1167 586V600M1217 586V600M1267 586V600" stroke="#d9d9d9" stroke-width="3" fill="none"/>
<g fill="none" stroke-linejoin="round">
<polyline stroke="#C0504D" stroke-width="9" points="163,425 168,450 180,445 190,440 195,400 205,398 215,408 235,412 250,415 265,422 280,425 290,412 300,410 315,415 335,413 350,418 365,432 390,435 400,445 408,467 420,462 440,465 470,465 490,460 498,433 520,433 530,455 545,470 560,480 580,483 595,490 610,493 625,500 640,497 660,497 680,505 700,507 720,505 740,502 760,502 780,507 800,505 820,500 840,496 850,493 858,467 880,465 895,465 900,420 908,350 912,300 915,253 920,260 922,330 925,405 932,435 940,450 948,410 958,405 968,415 978,385 985,385 990,410 1000,410 1010,350 1020,352 1030,360 1045,366 1060,375 1065,393 1080,395 1095,397 1103,360 1108,348 1115,360 1122,388 1140,385 1150,384 1160,395 1170,400 1180,420 1190,437 1200,432 1210,425 1225,430 1235,433 1245,445 1255,450 1265,458 1275,452 1285,440 1292,435 1297,410"/>
<polyline stroke="#4F81BD" stroke-width="10" points="163,586 195,586 200,569 205,586 230,580 245,569 255,586 262,626 275,637 290,631 298,552 305,535 315,541 325,535 330,620 340,631 350,586 360,597 372,626 380,603 392,586 405,558 412,535 420,552 430,569 438,541 448,563 458,552 468,603 478,575 490,535 498,552 510,558 520,541 530,569 545,546 555,569 570,580 585,580 598,552 610,563 625,552 640,546 652,535 662,530 672,558 688,541 700,518 712,524 720,473 732,501 742,467 750,518 758,541 768,501 778,541 790,462 800,496 810,456 818,513 828,484 836,462 845,524 855,552 863,507 872,546 880,484 888,541 898,473 908,450 915,343 922,496 928,586 935,501 942,462 950,552 958,496 968,569 975,586 985,518 992,484 998,473 1005,546 1012,524 1020,501 1030,513 1040,524 1048,541 1055,586 1062,614 1075,631 1085,586 1092,552 1100,569 1108,592 1118,575 1125,558 1135,597 1145,631 1158,626 1170,620 1178,580 1188,552 1195,558 1205,575 1215,592 1225,614 1235,597 1245,580 1252,558 1260,592 1268,563 1278,569 1290,558 1297,546"/>
</g>
<line x1="372" y1="905" x2="478" y2="905" stroke="#C0504D" stroke-width="10"/>
<line x1="372" y1="955" x2="478" y2="955" stroke="#4F81BD" stroke-width="10"/>
<g font-size="40" fill="#595959">
<text x="492" y="919">山东32%液碱（折百价）</text>
<text x="492" y="969">液氯槽车山东（右轴）</text>
</g>
</g>

<!-- footer -->
<g stroke="#000" stroke-width="1" fill="none">
<path d="M0 2128.5H887M0 2214.5H887M0 2295.5H887M0.5 2128V2296M886.5 2128V2296"/>
</g>
<g font-family="'Liberation Serif','Noto Serif CJK SC',serif" font-size="17" font-weight="bold" fill="#000">
<text x="6" y="2159">投资咨询业务资格</text><text x="170" y="2159">证监发【2014】217号</text>
<text x="6" y="2178">中原期货研究所</text><text x="152" y="2178">化工组</text>
<text x="6" y="2199">作者：邵亚男</text><text x="152" y="2199">从业证书：F3080133</text><text x="363" y="2199">投资咨询：Z0016340</text><text x="565" y="2199">联系方式：0371-58620081</text>
<text x="432" y="2235" text-anchor="middle">免责声明</text>
<text x="6" y="2253" textLength="877" lengthAdjust="spacingAndGlyphs">本报告中的信息由中原期货整理分析，均来源于已公开的资料，报告中的信息分析或所表达的意见并不构成对投资的建议，投</text>
<text x="6" y="2272" textLength="877" lengthAdjust="spacingAndGlyphs">资者因报告意见所做的判断，以及有可能产生的损失自行承担。期货交易有风险，投资者申请开立期货账户须满足证券期货投</text>
<text x="6" y="2290">资者适当性要求，具备匹配的风险承受能力。</text>
</g>
</svg>
</body></html>
